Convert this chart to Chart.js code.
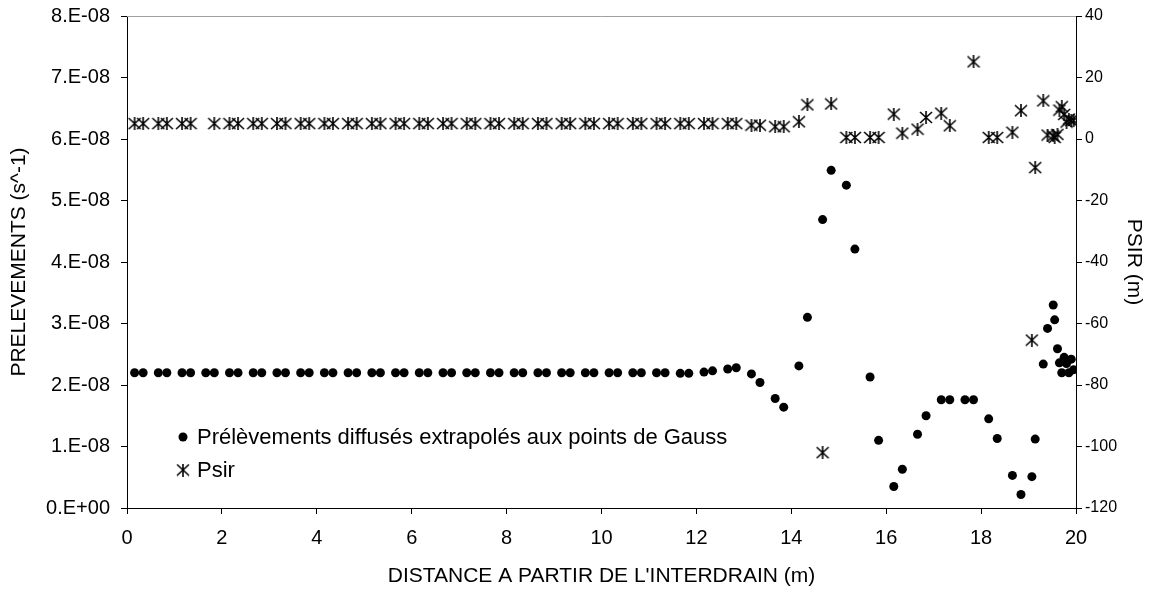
<!DOCTYPE html>
<html>
<head>
<meta charset="utf-8">
<script src="https://cdn.jsdelivr.net/npm/chart.js@4"></script>
<style>
  html, body { margin: 0; padding: 0; background: #fff; }
  #wrap { width: 1159px; height: 593px; position: relative; }
</style>
</head>
<body>
<div id="wrap"><canvas id="chart"></canvas></div>
<script>
// --- données ---
const distance = [
  0.16, 0.34, 0.66, 0.84, 1.16, 1.34, 1.66, 1.84, 2.16, 2.34, 2.66, 2.84,
  3.16, 3.34, 3.66, 3.84, 4.16, 4.34, 4.66, 4.84, 5.16, 5.34, 5.66, 5.84,
  6.16, 6.34, 6.66, 6.84, 7.16, 7.34, 7.66, 7.84, 8.16, 8.34, 8.66, 8.84,
  9.16, 9.34, 9.66, 9.84, 10.16, 10.34, 10.66, 10.84, 11.16, 11.34, 11.66, 11.84,
  12.16, 12.34, 12.66, 12.84, 13.16, 13.34, 13.66, 13.84, 14.16, 14.34, 14.66, 14.84,
  15.16, 15.34, 15.66, 15.84, 16.16, 16.34, 16.66, 16.84, 17.16, 17.34, 17.66, 17.84,
  18.16, 18.34, 18.66, 18.84,
  19.07, 19.14, 19.31, 19.40, 19.52, 19.55, 19.61, 19.65, 19.70, 19.75, 19.80, 19.85, 19.90, 19.95
];

// prélèvements (s^-1)
const prelevements = [
  2.2e-8, 2.2e-8, 2.2e-8, 2.2e-8, 2.2e-8, 2.2e-8, 2.2e-8, 2.2e-8, 2.2e-8, 2.2e-8, 2.2e-8, 2.2e-8,
  2.2e-8, 2.2e-8, 2.2e-8, 2.2e-8, 2.2e-8, 2.2e-8, 2.2e-8, 2.2e-8, 2.2e-8, 2.2e-8, 2.2e-8, 2.2e-8,
  2.2e-8, 2.2e-8, 2.2e-8, 2.2e-8, 2.2e-8, 2.2e-8, 2.2e-8, 2.2e-8, 2.2e-8, 2.2e-8, 2.2e-8, 2.2e-8,
  2.2e-8, 2.2e-8, 2.2e-8, 2.2e-8, 2.2e-8, 2.2e-8, 2.2e-8, 2.2e-8, 2.2e-8, 2.2e-8, 2.19e-8, 2.19e-8,
  2.21e-8, 2.23e-8, 2.26e-8, 2.28e-8, 2.18e-8, 2.04e-8, 1.78e-8, 1.64e-8, 2.31e-8, 3.10e-8, 4.69e-8, 5.49e-8,
  5.25e-8, 4.21e-8, 2.13e-8, 1.10e-8, 0.35e-8, 0.63e-8, 1.20e-8, 1.50e-8, 1.76e-8, 1.76e-8, 1.76e-8, 1.76e-8,
  1.45e-8, 1.13e-8, 0.53e-8, 0.22e-8,
  0.51e-8, 1.12e-8, 2.34e-8, 2.92e-8, 3.30e-8, 3.06e-8, 2.59e-8, 2.36e-8, 2.20e-8, 2.45e-8, 2.35e-8, 2.20e-8, 2.42e-8, 2.25e-8
];

// Psir (m), null = point non visible
const psir = [
  5, 5, 5, 5, 5, 5, null, 5, 5, 5, 5, 5,
  5, 5, 5, 5, 5, 5, 5, 5, 5, 5, 5, 5,
  5, 5, 5, 5, 5, 5, 5, 5, 5, 5, 5, 5,
  5, 5, 5, 5, 5, 5, 5, 5, 5, 5, 5, 5,
  5, 5, 5, 5, 4.5, 4.5, 4.0, 4.0, 5.6, 11.1, -102, 11.4,
  0.5, 0.5, 0.5, 0.5, 8.1, 1.9, 3.2, 7.0, 8.4, 4.3, null, 25.1,
  0.5, 0.5, 2.2, 9.2,
  -65.4, -9.3, 12.4, 1.3, 1.0, 0.5, 1.5, 9.4, 10.5, 8.0, 5.5, 6.5, 6.0, 6.0
];

const xTicksStep = 2;
const leftTicksStep = 1e-8;
const rightTicksStep = 20;

const FONT = 'Liberation Sans, Arial, sans-serif';

// symbole étoile (X + barre verticale)
function makeStar() {
    const c = document.createElement('canvas');
    c.width = 14; c.height = 13;
    const g = c.getContext('2d');
    g.strokeStyle = '#000';
    g.lineWidth = 1.6;
    g.beginPath();
    g.moveTo(1, 1); g.lineTo(13, 12);
    g.moveTo(13, 1); g.lineTo(1, 12);
    g.moveTo(7, 0); g.lineTo(7, 13);
    g.stroke();
    return c;
}
const star = makeStar();

// taille fixe des axes (zone de tracé calée sur la référence)
function fixSize(prop, val) {
    return s => {
        s[prop] = val;
        s.paddingTop = 0; s.paddingBottom = 0;
        s.paddingLeft = 0; s.paddingRight = 0;
    };
}

// légende dessinée dans la zone du graphique + trait gris en haut
const customDraw = {
    id: 'customDraw',
    afterDraw(chart) {
        const { ctx, chartArea: a } = chart;
        ctx.save();
        ctx.strokeStyle = '#a0a0a0';
        ctx.lineWidth = 1;
        ctx.beginPath();
        ctx.moveTo(a.left, a.top + 0.5);
        ctx.lineTo(a.right, a.top + 0.5);
        ctx.stroke();

        const mx = a.left + 56;
        const rows = [a.top + 421, a.top + 454];
        ctx.font = '22px ' + FONT;
        ctx.fillStyle = '#000';
        ctx.textBaseline = 'middle';
        ctx.textAlign = 'left';
        chart.data.datasets.forEach((ds, i) => {
            const y = rows[i];
            if (i === 0) {
                ctx.beginPath();
                ctx.arc(mx, y, 4.5, 0, Math.PI * 2);
                ctx.fill();
            } else {
                ctx.drawImage(star, mx - star.width / 2, y - star.height / 2);
            }
            ctx.fillText(ds.label, mx + 14, y + 1);
        });
        ctx.restore();
    }
};

new Chart(document.getElementById('chart'), {
    type: 'scatter',
    data: {
        datasets: [
            {
                label: 'Prélèvements diffusés extrapolés aux points de Gauss',
                data: distance.map((x, i) => ({ x, y: prelevements[i] })),
                yAxisID: 'y',
                pointStyle: 'circle',
                pointRadius: 4.5,
                backgroundColor: '#000',
                borderColor: '#000',
                borderWidth: 0
            },
            {
                label: 'Psir',
                data: distance.map((x, i) => ({ x, y: psir[i] })),
                yAxisID: 'y2',
                pointStyle: star,
                backgroundColor: '#000',
                borderColor: '#000'
            }
        ]
    },
    options: {
        responsive: true,
        maintainAspectRatio: false,
        animation: false,
        layout: { padding: { top: 16, left: 0, right: 0, bottom: 0 } },
        plugins: { legend: { display: false }, tooltip: { enabled: false } },
        scales: {
            x: {
                type: 'linear', min: 0, max: 20,
                ticks: { stepSize: xTicksStep, color: '#000', font: { family: FONT, size: 20 }, padding: 12 },
                grid: { drawOnChartArea: false, drawTicks: true, tickLength: 6, color: '#000' },
                border: { color: '#000', width: 1 },
                title: { display: true, text: "DISTANCE A PARTIR DE L'INTERDRAIN (m)", color: '#000',
                         font: { family: FONT, size: 21 }, padding: { top: 0, bottom: 4 } },
                afterFit: fixSize('height', 85)
            },
            y: {
                position: 'left', min: 0, max: 8e-8,
                ticks: {
                    stepSize: leftTicksStep, color: '#000', font: { family: FONT, size: 20 }, padding: 11,
                    callback: v => {
                        const n = Math.round(v / 1e-8);
                        return n === 0 ? '0.E+00' : n + '.E-08';
                    }
                },
                grid: { drawOnChartArea: false, drawTicks: true, tickLength: 6, color: '#000' },
                border: { color: '#000', width: 1 },
                title: { display: true, text: 'PRELEVEMENTS (s^-1)', color: '#000',
                         font: { family: FONT, size: 21 }, padding: { top: 7, bottom: 0 } },
                afterFit: fixSize('width', 127)
            },
            y2: {
                position: 'right', min: -120, max: 40,
                ticks: { stepSize: rightTicksStep, color: '#000', font: { family: FONT, size: 16 }, padding: 3 },
                grid: { drawOnChartArea: false, drawTicks: true, tickLength: 6, color: '#000' },
                border: { color: '#000', width: 1 },
                title: { display: true, text: 'PSIR (m)', color: '#000',
                         font: { family: FONT, size: 21 }, padding: { top: 13, bottom: 0 } },
                afterFit: fixSize('width', 83)
            }
        }
    },
    plugins: [customDraw]
});
</script>
</body>
</html>
